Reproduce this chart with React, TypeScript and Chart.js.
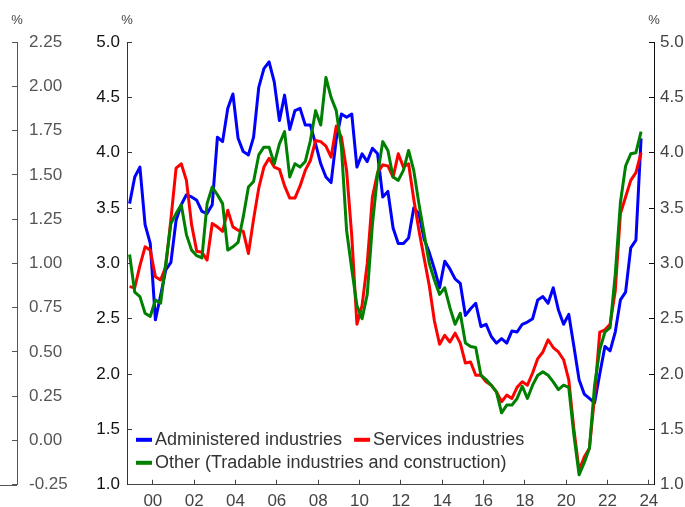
import React, { useEffect, useRef } from 'react';
import { Chart, registerables } from 'chart.js';

Chart.register(...registerables);

// Quarterly year-ended inflation, Dec quarter 1998 to Sep quarter 2023 (plotted at mid-quarter)
const FIRST_QUARTER_POS = 1998.875;

const administered = [
  3.54, 3.78, 3.87, 3.35, 3.18, 2.49, 2.71, 2.94, 3.01, 3.39,
  3.53, 3.62, 3.60, 3.57, 3.47, 3.45, 3.53, 4.14, 4.10, 4.40,
  4.53, 4.13, 4.01, 3.98, 4.14, 4.59, 4.76, 4.82, 4.64, 4.29,
  4.52, 4.21, 4.38, 4.40, 4.25, 4.25, 4.08, 3.90, 3.78, 3.73,
  4.12, 4.35, 4.32, 4.35, 3.87, 3.99, 3.92, 4.04, 3.99, 3.60,
  3.65, 3.32, 3.18, 3.18, 3.23, 3.50, 3.45, 3.22, 3.10, 2.95,
  2.78, 3.02, 2.95, 2.86, 2.82, 2.53, 2.59, 2.64, 2.43, 2.45,
  2.34, 2.28, 2.32, 2.28, 2.39, 2.38, 2.45, 2.47, 2.50, 2.67,
  2.70, 2.64, 2.78, 2.58, 2.45, 2.54, 2.25, 1.95, 1.82, 1.78,
  1.74, 2.00, 2.25, 2.21, 2.38, 2.67, 2.74, 3.14, 3.21, 4.13,
];

const services = [
  2.79, 2.78, 2.98, 3.15, 3.12, 2.88, 2.85, 2.97, 3.40, 3.86,
  3.90, 3.75, 3.35, 3.11, 3.10, 3.03, 3.36, 3.33, 3.29, 3.48,
  3.33, 3.30, 3.29, 3.09, 3.40, 3.68, 3.87, 3.95, 3.87, 3.85,
  3.70, 3.59, 3.59, 3.70, 3.84, 3.93, 4.11, 4.10, 4.06, 3.96,
  4.24, 4.14, 3.84, 3.25, 2.45, 2.62, 3.00, 3.60, 3.82, 3.89,
  3.88, 3.78, 3.99, 3.87, 3.90, 3.58, 3.30, 3.05, 2.80, 2.48,
  2.27, 2.35, 2.29, 2.37, 2.28, 2.10, 2.11, 1.99, 1.99, 1.93,
  1.90, 1.84, 1.75, 1.81, 1.78, 1.88, 1.93, 1.90, 2.01, 2.14,
  2.20, 2.31, 2.24, 2.20, 2.13, 1.95, 1.50, 1.13, 1.25, 1.33,
  1.80, 2.38, 2.40, 2.45, 2.75, 3.45, 3.60, 3.75, 3.82, 4.00,
];

const other = [
  3.08, 2.74, 2.70, 2.55, 2.52, 2.67, 2.64, 3.00, 3.36, 3.45,
  3.53, 3.26, 3.12, 3.07, 3.05, 3.54, 3.69, 3.62, 3.54, 3.12,
  3.15, 3.19, 3.42, 3.69, 3.74, 3.98, 4.05, 4.05, 3.90, 4.08,
  4.19, 3.78, 3.90, 3.87, 3.92, 4.11, 4.38, 4.25, 4.68, 4.50,
  4.38, 4.05, 3.30, 2.95, 2.62, 2.50, 2.72, 3.35, 3.80, 4.10,
  4.02, 3.78, 3.75, 3.84, 4.02, 3.84, 3.54, 3.27, 3.00, 2.85,
  2.72, 2.78, 2.60, 2.45, 2.55, 2.28, 2.25, 2.24, 1.99, 1.95,
  1.90, 1.84, 1.65, 1.72, 1.72, 1.78, 1.89, 1.78, 1.90, 1.99,
  2.02, 1.99, 1.93, 1.86, 1.90, 1.88, 1.45, 1.09, 1.20, 1.33,
  1.90, 2.22, 2.38, 2.42, 2.90, 3.55, 3.88, 3.99, 4.00, 4.19,
];

const seriesNames = [
  'Administered industries',
  'Services industries',
  'Other (Tradable industries and construction)',
];
const seriesColors = ['#0000ff', '#ff0000', '#008000'];

const xTickYears = [2000, 2002, 2004, 2006, 2008, 2010, 2012, 2014, 2016, 2018, 2020, 2022, 2024];
const xTickLabels = ['00', '02', '04', '06', '08', '10', '12', '14', '16', '18', '20', '22', '24'];
const mainTicks = [1.0, 1.5, 2.0, 2.5, 3.0, 3.5, 4.0, 4.5, 5.0];
const panelTicks = [-0.25, 0, 0.25, 0.5, 0.75, 1.0, 1.25, 1.5, 1.75, 2.0, 2.25];

const FONT = "'Liberation Sans', Arial, sans-serif";

const toPoints = (vals: number[]) =>
  vals.map((v, i) => ({ x: FIRST_QUARTER_POS + i * 0.25, y: v }));

const decorPlugin = {
  id: 'decor',
  afterDraw(chart: any) {
    const ctx = chart.ctx;
    const area = chart.chartArea;
    const yp = chart.scales.yPanel;
    const ym = chart.scales.y;
    const yr = chart.scales.yRight;
    ctx.save();
    // left panel baseline
    ctx.strokeStyle = '#555';
    ctx.lineWidth = 1;
    const by = Math.round(area.bottom) + 0.5;
    ctx.beginPath();
    ctx.moveTo(yp.left, by);
    ctx.lineTo(yp.right, by);
    ctx.stroke();
    // % unit labels
    ctx.font = `13px ${FONT}`;
    ctx.fillStyle = '#444';
    ctx.textAlign = 'center';
    ctx.textBaseline = 'middle';
    const uy = area.top - 22;
    ctx.fillText('%', yp.right, uy);
    ctx.fillText('%', ym.right, uy);
    ctx.fillText('%', yr.left, uy);
    // legend
    ctx.font = `18px ${FONT}`;
    ctx.textAlign = 'left';
    ctx.fillStyle = '#333';
    const rows = [[0, 1], [2]];
    const rowY = [area.bottom - 45, area.bottom - 22];
    rows.forEach((row, r) => {
      let x = area.left + 9;
      row.forEach((di) => {
        const ds = chart.data.datasets[di];
        ctx.strokeStyle = ds.borderColor;
        ctx.lineWidth = 4;
        ctx.beginPath();
        ctx.moveTo(x, rowY[r]);
        ctx.lineTo(x + 16, rowY[r]);
        ctx.stroke();
        ctx.fillText(ds.label, x + 19, rowY[r]);
        x += 19 + ctx.measureText(ds.label).width + 12;
      });
    });
    ctx.restore();
  },
};

export default function App() {
  const ref = useRef<HTMLCanvasElement | null>(null);

  useEffect(() => {
    if (!ref.current) return;
    Chart.defaults.font.family = FONT;
    const tickFont = { size: 17, family: FONT };
    const chart = new Chart(ref.current, {
      type: 'line',
      data: {
        datasets: [
          { label: seriesNames[0], data: toPoints(administered), borderColor: seriesColors[0], order: 3 },
          { label: seriesNames[1], data: toPoints(services), borderColor: seriesColors[1], order: 2 },
          { label: seriesNames[2], data: toPoints(other), borderColor: seriesColors[2], order: 1 },
        ].map((d) => ({
          ...d,
          borderWidth: 3,
          pointRadius: 0,
          fill: false,
          tension: 0,
          borderJoinStyle: 'round' as const,
          yAxisID: 'y',
        })),
      },
      options: {
        responsive: false,
        animation: false,
        events: [],
        layout: { padding: { top: 42, left: 0, right: 0, bottom: 0 } },
        plugins: { legend: { display: false }, tooltip: { enabled: false } },
        scales: {
          x: {
            type: 'linear',
            min: 1998.75,
            max: 2024.25,
            afterBuildTicks: (s: any) => {
              s.ticks = xTickYears.map((value) => ({ value }));
            },
            afterFit: (s: any) => {
              s.height = 22;
            },
            ticks: {
              autoSkip: false,
              maxRotation: 0,
              padding: 11,
              color: '#444',
              font: tickFont,
              callback: (v: any) => {
                const i = xTickYears.indexOf(Number(v));
                return i >= 0 ? xTickLabels[i] : '';
              },
            },
            grid: { drawOnChartArea: false, drawTicks: true, tickLength: -5, color: '#444' },
            border: { display: true, color: '#444', width: 1 },
          },
          yPanel: {
            type: 'linear',
            position: 'left',
            weight: 1,
            min: -0.25,
            max: 2.25,
            afterBuildTicks: (s: any) => {
              s.ticks = panelTicks.map((value) => ({ value }));
            },
            afterFit: (s: any) => {
              s.width = 17;
            },
            ticks: {
              mirror: true,
              padding: 12,
              color: '#555',
              font: tickFont,
              callback: (v: any) => Number(v).toFixed(2),
            },
            grid: { drawOnChartArea: false, drawTicks: true, tickLength: 5, color: '#555' },
            border: { display: true, color: '#555', width: 1 },
          },
          y: {
            type: 'linear',
            position: 'left',
            weight: 0,
            min: 1,
            max: 5,
            afterBuildTicks: (s: any) => {
              s.ticks = mainTicks.map((value) => ({ value }));
            },
            afterFit: (s: any) => {
              s.width = 110;
            },
            ticks: {
              padding: 12,
              color: '#111',
              font: tickFont,
              callback: (v: any) => Number(v).toFixed(1),
            },
            grid: { drawOnChartArea: false, drawTicks: true, tickLength: -5, color: '#333' },
            border: { display: true, color: '#333', width: 1 },
          },
          yRight: {
            type: 'linear',
            position: 'right',
            min: 1,
            max: 5,
            afterBuildTicks: (s: any) => {
              s.ticks = mainTicks.map((value) => ({ value }));
            },
            afterFit: (s: any) => {
              s.width = 31;
            },
            ticks: {
              padding: 11,
              color: '#444',
              font: tickFont,
              callback: (v: any) => Number(v).toFixed(1),
            },
            grid: { drawOnChartArea: false, drawTicks: true, tickLength: -5, color: '#111' },
            border: { display: true, color: '#111', width: 1 },
          },
        },
      } as any,
      plugins: [decorPlugin],
    });
    return () => chart.destroy();
  }, []);

  return (
    <div style={{ position: 'absolute', left: 0, top: 0, width: 685, height: 507, background: '#fff' }}>
      <canvas ref={ref} width={685} height={507} style={{ display: 'block' }} />
    </div>
  );
}
